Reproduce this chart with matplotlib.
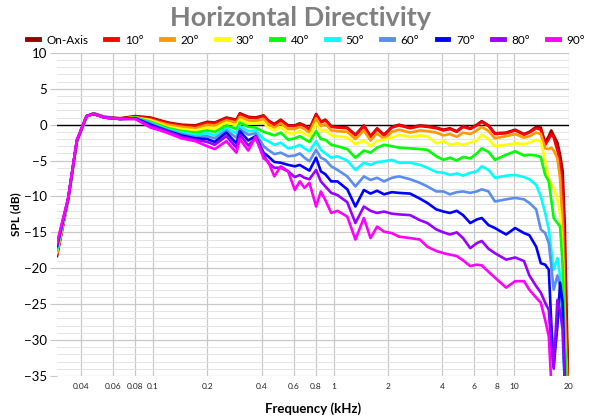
import numpy as np
import matplotlib
matplotlib.use("Agg")
import matplotlib.pyplot as plt
from matplotlib.ticker import FixedLocator, MultipleLocator, NullFormatter

plt.rcParams['font.family'] = ['Lato', 'DejaVu Sans']

nan = np.nan

# frequency points (kHz)
freq = [0.0295, 0.034, 0.038, 0.043, 0.047, 0.054, 0.066, 0.08, 0.097,
        0.11, 0.122, 0.144, 0.172, 0.2, 0.22, 0.255, 0.29, 0.303, 0.337,
        0.37, 0.41, 0.434, 0.47, 0.51, 0.56, 0.61, 0.65, 0.69, 0.735,
        0.8, 0.85, 0.9, 0.97, 1.05, 1.19, 1.32, 1.47, 1.6, 1.74,
        1.9, 2.1, 2.3, 2.65, 3.0, 3.3, 3.7, 4.05, 4.4, 4.8,
        5.2, 5.7, 6.2, 6.6, 7.2, 7.8, 9.0, 10.1,
        11.3, 12.1, 13.2, 14.0, 14.8, 15.5, 16.0, 16.5, 17.3, 17.9, 18.5, 19.0, 19.6, 20.0]

on_axis = [-18.3, -10.5, -2.3, 1.2, 1.6, 1.1, 0.9, 1.2, 1.0,
           0.6, 0.3, 0.0, -0.1, 0.4, 0.3, 1.0, 0.7, 1.6, 1.1,
           1.0, 1.3, 0.6, 0.1, 0.7, -0.1, -0.1, 0.2, -0.1, -0.6,
           1.5, 0.4, 0.7, -0.2, -0.3, -0.4, -1.4, -0.1, -1.6, -0.5,
           -1.4, -0.3, 0.0, -0.4, -0.1, -0.2, -0.4, -0.7, -0.5, -0.9,
           -0.2, -0.5, 0.0, 0.5, -0.1, -1.2, -1.1, -0.7,
           -1.3, -1.0, -0.3, -0.4, -2.5, -1.6, -0.8, -1.5, -2.5, -4.2, -6.5, -14.0, -30.0, -36.0]

deg10 = [-18.1, -10.4, -2.3, 1.2, 1.5, 1.0, 0.8, 1.1, 0.9,
         0.5, 0.2, -0.1, -0.2, 0.3, 0.2, 0.9, 0.6, 1.5, 1.0,
         0.9, 1.2, 0.5, 0.0, 0.6, -0.2, -0.2, 0.1, -0.2, -0.7,
         1.4, 0.3, 0.6, -0.3, -0.4, -0.5, -1.5, -0.2, -1.7, -0.6,
         -1.5, -0.4, -0.1, -0.5, -0.2, -0.3, -0.5, -0.8, -0.6, -1.0,
         -0.3, -0.6, -0.1, 0.4, -0.2, -1.3, -1.2, -0.8,
         -1.4, -1.1, -0.5, -0.7, -2.8, -2.0, -1.3, -1.8, -3.6, -5.3, -9.0, -20.0, -33.0, -36.0]

deg20 = [-17.9, -10.4, -2.3, 1.2, 1.5, 1.0, 0.8, 1.0, 0.7,
         0.3, 0.0, -0.3, -0.5, 0.0, -0.1, 0.6, 0.3, 1.1, 0.6,
         0.5, 0.8, 0.1, -0.4, 0.2, -0.6, -0.6, -0.3, -0.6, -1.1,
         0.9, -0.2, 0.1, -0.8, -0.9, -1.0, -2.0, -0.8, -2.2, -1.2,
         -2.0, -1.0, -0.7, -1.1, -0.8, -0.9, -1.1, -1.5, -1.3, -1.7,
         -1.1, -1.3, -0.8, -0.3, -0.9, -1.9, -1.6, -1.3,
         -1.8, -1.6, -1.1, -1.3, -3.3, -3.4, -3.2, -3.6, -4.7, -7.5, -14.0, -26.0, -36.0, nan]

deg30 = [-17.7, -10.4, -2.3, 1.2, 1.5, 1.0, 0.8, 1.0, 0.6,
         0.1, -0.3, -0.6, -0.8, -0.4, -0.5, 0.3, -0.1, 0.7, 0.2,
         0.2, 0.3, -0.4, -0.8, -0.3, -1.2, -1.2, -0.9, -1.3, -1.6,
         0.2, -0.9, -0.7, -1.5, -1.6, -1.8, -2.7, -2.2, -3.0, -2.2,
         -2.1, -1.8, -1.4, -1.7, -1.5, -1.6, -2.6, -2.3, -2.8, -2.6,
         -2.8, -2.5, -2.2, -1.4, -2.0, -3.0, -2.8, -2.6,
         -2.7, -2.5, -2.1, -2.3, -5.0, -7.5, -8.3, -8.8, -10.5, -12.5, -18.0, -30.0, -36.0, nan]

deg40 = [-17.5, -10.4, -2.3, 1.2, 1.5, 1.0, 0.8, 1.0, 0.4,
         -0.1, -0.5, -0.9, -1.1, -0.8, -1.0, -0.1, -0.6, 0.3, -0.3,
         -0.4, -1.0, -1.2, -1.5, -1.1, -2.1, -1.9, -1.6, -2.0, -2.4,
         -0.9, -2.0, -2.1, -2.8, -3.0, -3.4, -4.6, -3.6, -3.9, -3.2,
         -2.8, -3.0, -3.2, -3.3, -3.4, -3.5, -4.4, -4.9, -4.6, -5.0,
         -4.5, -4.7, -4.0, -3.3, -3.8, -4.9, -4.2, -3.7,
         -4.3, -4.2, -4.3, -4.5, -7.0, -7.9, -10.5, -13.0, -13.7, -14.2, -19.7, -30.0, -36.0, nan]

deg50 = [-17.3, -10.4, -2.3, 1.2, 1.5, 1.0, 0.8, 0.9, 0.3,
         -0.3, -0.7, -1.1, -1.4, -1.2, -1.5, -0.5, -1.2, -0.2, -0.9,
         -0.8, -2.0, -2.3, -2.8, -2.5, -3.3, -3.1, -2.8, -3.3, -3.7,
         -2.3, -3.5, -4.0, -4.6, -4.4, -5.0, -6.3, -5.3, -5.6, -5.2,
         -5.1, -4.9, -5.3, -5.3, -5.6, -6.0, -6.6, -6.7, -7.0, -6.8,
         -7.1, -6.7, -6.5, -5.8, -6.3, -7.4, -7.1, -7.0,
         -7.3, -7.6, -8.4, -10.0, -12.3, -14.6, -17.5, -20.2, -18.6, -21.1, -30.0, -36.0, nan, nan]

deg60 = [-17.1, -10.4, -2.3, 1.2, 1.5, 1.0, 0.8, 0.9, 0.2,
         -0.4, -0.8, -1.3, -1.7, -1.6, -1.9, -0.8, -1.8, -0.6, -1.4,
         -1.2, -3.0, -3.5, -4.1, -3.9, -4.4, -4.3, -4.0, -4.6, -5.1,
         -3.5, -4.6, -4.9, -5.8, -6.3, -7.2, -8.6, -7.2, -7.7, -7.4,
         -7.9, -7.4, -7.2, -7.6, -8.1, -8.6, -9.3, -9.3, -9.7, -9.4,
         -9.3, -9.5, -9.3, -9.0, -9.3, -10.7, -10.4, -10.2,
         -10.4, -10.9, -11.8, -14.6, -15.1, -16.5, -19.7, -23.0, -21.0, -22.5, -26.0, -36.0, nan, nan]

deg70 = [-16.9, -10.3, -2.2, 1.2, 1.5, 1.0, 0.8, 0.9, 0.0,
         -0.5, -0.9, -1.5, -1.9, -2.0, -2.4, -1.1, -2.6, -0.9, -2.2,
         -1.6, -3.9, -4.4, -5.2, -5.3, -5.6, -5.8, -5.6, -6.0, -6.4,
         -4.6, -6.5, -6.9, -7.9, -7.9, -9.0, -11.4, -9.1, -9.6, -9.2,
         -9.7, -9.4, -9.5, -9.6, -10.3, -10.9, -11.8, -12.1, -12.3, -12.0,
         -12.6, -13.7, -13.2, -13.0, -14.0, -14.4, -15.3, -14.4,
         -15.1, -15.4, -17.0, -19.3, -19.5, -20.2, -27.6, -33.7, -28.0, -22.0, -24.8, -36.0, nan, nan]

deg80 = [-16.7, -10.3, -2.2, 1.2, 1.5, 1.0, 0.8, 0.8, -0.2,
         -0.6, -1.0, -1.7, -2.1, -2.4, -2.8, -1.6, -3.2, -1.4, -2.9,
         -1.9, -4.2, -5.3, -6.0, -6.0, -6.5, -7.3, -7.0, -7.4, -7.6,
         -6.3, -7.9, -8.6, -9.5, -9.8, -10.8, -13.7, -11.4, -12.0, -12.3,
         -12.1, -12.4, -12.5, -12.6, -13.3, -13.7, -14.6, -15.0, -15.3, -15.0,
         -15.8, -17.2, -16.5, -16.2, -17.3, -17.9, -18.8, -18.5,
         -19.0, -21.0, -22.5, -23.4, -24.8, -25.8, -31.0, -34.0, -24.4, -26.0, -28.5, -36.0, nan, nan]

deg90 = [-16.5, -10.2, -2.1, 1.2, 1.5, 1.0, 0.8, 0.8, -0.4,
         -0.8, -1.2, -1.9, -2.3, -3.0, -3.4, -2.3, -3.9, -2.0, -3.6,
         -1.7, -4.7, -5.1, -7.2, -5.8, -6.5, -9.1, -7.9, -8.8, -8.1,
         -11.4, -9.3, -10.5, -12.3, -12.0, -12.8, -16.0, -13.0, -15.8, -14.2,
         -14.9, -15.1, -15.6, -15.8, -16.0, -17.0, -17.6, -17.9, -18.1, -18.3,
         -18.9, -19.7, -19.5, -19.6, -20.5, -21.3, -22.7, -21.8,
         -21.8, -23.0, -24.1, -24.8, -27.2, -29.5, -36.0, nan, nan, nan, nan, nan, nan, nan]

labels = ['On-Axis', '10°', '20°', '30°', '40°', '50°', '60°', '70°', '80°', '90°']
series = [on_axis, deg10, deg20, deg30, deg40, deg50, deg60, deg70, deg80, deg90]
colors = ['#990000', '#ff0000', '#ff9900', '#ffff00', '#00ff00',
          '#00ffff', '#5b8def', '#0000ff', '#9900ff', '#ff00ff']

xticks = [0.04, 0.06, 0.08, 0.1, 0.2, 0.4, 0.6, 0.8, 1, 2, 4, 6, 8, 10, 20]
xticklabels = ['0.04', '0.06', '0.08', '0.1', '0.2', '0.4', '0.6', '0.8', '1',
               '2', '4', '6', '8', '10', '20']

fig = plt.figure(figsize=(6, 4.2), dpi=100)
ax = fig.add_axes([0.095, 0.105, 0.853, 0.769])

for vals, lab, col in zip(series, labels, colors):
    ax.plot(freq, vals, color=col, lw=1.9, label=lab, zorder=3)

ax.axhline(0, color='black', lw=1, zorder=2)

ax.set_xscale('log')
ax.set_xlim(0.0295, 20)
ax.set_ylim(-35, 10)

ax.xaxis.set_major_locator(FixedLocator(xticks))
ax.set_xticklabels(xticklabels)
ax.xaxis.set_minor_formatter(NullFormatter())
ax.xaxis.set_minor_locator(FixedLocator([]))
ax.yaxis.set_major_locator(MultipleLocator(5))
ax.yaxis.set_minor_locator(MultipleLocator(1))

ax.grid(which='major', axis='both', color='#c8c8c8', lw=0.9, zorder=0)
ax.grid(which='minor', axis='y', color='#e4e4e4', lw=0.7, zorder=0)

for s in ax.spines.values():
    s.set_visible(False)

ax.tick_params(axis='x', which='both', length=0, labelsize=6, pad=5, colors='#222222')
ax.tick_params(axis='y', which='major', length=5, color='#c8c8c8', labelsize=9.5, pad=2)
ax.tick_params(axis='y', which='minor', length=0)

ax.set_xlabel('Frequency (kHz)', fontsize=9.5, fontweight='bold', labelpad=9)
ax.set_ylabel('SPL (dB)', fontsize=8.5, fontweight='bold', labelpad=2)

fig.text(0.5, 1 - 18 / 420, 'Horizontal Directivity', ha='center', va='center',
         fontsize=19.5, fontweight='bold', color='#808080')

handles, labs = ax.get_legend_handles_labels()
leg = fig.legend(handles, labs, loc='center', bbox_to_anchor=(0.51, 1 - 40 / 420),
                 ncol=10, frameon=False, fontsize=8.5, handlelength=1.0,
                 handletextpad=0.65, columnspacing=1.45, borderaxespad=0)
for h in leg.get_lines():
    h.set_linewidth(3.5)

fig.savefig('out.png', dpi=100)
